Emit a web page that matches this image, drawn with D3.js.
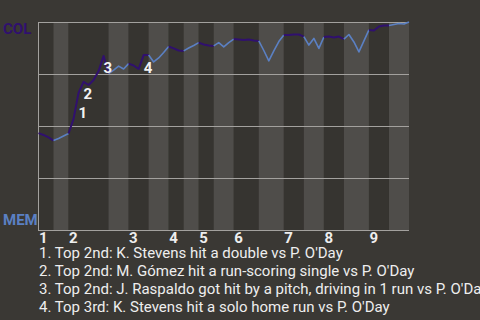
<!DOCTYPE html>
<html>
<head>
<meta charset="utf-8">
<script src="https://cdn.jsdelivr.net/npm/d3@7.9.0/dist/d3.min.js"></script>
<style>
  html, body { margin: 0; padding: 0; background: #3a3834; overflow: hidden; }
  svg { display: block; font-family: Roboto, sans-serif; }
</style>
</head>
<body>
<svg id="chart" width="480" height="320"></svg>
<script>
// teams: away on top, home on bottom
const teams = ['COL', 'MEM'];
const innings = ['1', '2', '3', '4', '5', '6', '7', '8', '9'];

// plate appearances in each half inning (top 1, bottom 1, top 2, ...)
const halfPlays = [3, 3, 8, 4, 4, 4, 3, 3, 3, 4, 5, 5, 4, 4, 4, 5, 4, 4];

// COL win probability (%) before the first play and after every play
const colWinPct = [
  46.6, 45.7, 44.5, 43.0, 44.0, 45.2, 46.4, 53.4, 65.9, 71.2,
  69.7, 72.1, 76.4, 83.7, 75.2, 76.9, 78.8, 77.4, 80.0, 79.1,
  77.4, 84.1, 84.1, 80.8, 82.7, 85.3, 88.2, 87.3, 86.3, 86.1,
  87.5, 88.7, 90.1, 89.2, 88.7, 88.5, 90.1, 88.0, 90.1, 91.8,
  91.6, 91.3, 91.6, 91.1, 90.9, 86.3, 81.3, 86.1, 90.6, 93.8,
  93.8, 94.0, 94.0, 93.0, 88.9, 92.1, 87.3, 92.8, 93.0, 92.5,
  93.0, 91.8, 94.0, 90.4, 85.6, 90.9, 96.2, 95.9, 97.8, 98.3,
  98.3, 98.8, 99.3, 99.0, 100
];

// key plays: index into colWinPct and description
const eventPlay = [8, 9, 13, 21];
const eventText = [
  "Top 2nd: K. Stevens hit a double vs P. O'Day",
  "Top 2nd: M. Gómez hit a run-scoring single vs P. O'Day",
  "Top 2nd: J. Raspaldo got hit by a pitch, driving in 1 run vs P. O'Day",
  "Top 3rd: K. Stevens hit a solo home run vs P. O'Day"
];

const colors = { top: '#30106e', bottom: '#5b80c3' };

const svg = d3.select('#chart');
const nPlays = d3.sum(halfPlays);
const halfStart = [0, ...d3.cumsum(halfPlays)];

const x = d3.scaleLinear().domain([0, nPlays]).range([38.5, 409]);
const y = d3.scaleLinear().domain([0, 100]).range([230, 22]);

// half inning bands
svg.append('g')
  .selectAll('rect')
  .data(halfPlays)
  .join('rect')
  .attr('x', (d, i) => x(halfStart[i]))
  .attr('width', (d, i) => x(halfStart[i + 1]) - x(halfStart[i]))
  .attr('y', y(100))
  .attr('height', y(0) - y(100))
  .attr('fill', (d, i) => i % 2 === 0 ? '#363430' : '#4f4d4a');

// grid lines
svg.append('g')
  .selectAll('line')
  .data([0, 25, 50, 75, 100])
  .join('line')
  .attr('x1', 38)
  .attr('x2', x(nPlays))
  .attr('y1', d => Math.round(y(d)) + 0.5)
  .attr('y2', d => Math.round(y(d)) + 0.5)
  .attr('stroke', '#a3a19e')
  .attr('stroke-width', 1);

svg.append('line')
  .attr('x1', 38.5).attr('x2', 38.5)
  .attr('y1', y(100)).attr('y2', y(0) + 1)
  .attr('stroke', '#a3a19e');

// win probability line, one path per half inning
const line = d3.line()
  .x(i => x(i))
  .y(i => y(colWinPct[i]));

svg.append('g')
  .attr('fill', 'none')
  .attr('stroke-linejoin', 'round')
  .selectAll('path')
  .data(halfPlays)
  .join('path')
  .attr('d', (d, h) => line(d3.range(halfStart[h], halfStart[h + 1] + 1)))
  .attr('stroke', (d, h) => h % 2 === 0 ? colors.top : colors.bottom)
  .attr('stroke-width', (d, h) => h % 2 === 0 ? 2 : 1.6);

// team labels
svg.append('text')
  .attr('x', 3).attr('y', 33.5)
  .attr('font-size', 15).attr('font-weight', 'bold')
  .attr('fill', colors.top)
  .text(teams[0]);

svg.append('text')
  .attr('x', 3).attr('y', 225)
  .attr('font-size', 15).attr('font-weight', 'bold')
  .attr('fill', colors.bottom)
  .text(teams[1]);

// inning numbers at the start of each top half
svg.append('g')
  .selectAll('text')
  .data(innings)
  .join('text')
  .attr('x', (d, i) => x(halfStart[i * 2]) + 0.5)
  .attr('y', 242.5)
  .attr('font-size', 15).attr('font-weight', 'bold')
  .attr('fill', '#eeeeee')
  .text(d => d);

// event markers, pushed down when they collide
let placed = [];
eventPlay
  .map((p, i) => ({ n: i + 1, px: x(p), py: y(colWinPct[p]) + 17.5 }))
  .sort((a, b) => a.py - b.py)
  .forEach(e => {
    placed.forEach(o => {
      if (Math.abs(o.px - e.px) < 9 && Math.abs(o.py - e.py) < 18) e.py = o.py + 19;
    });
    placed.push(e);
  });

svg.append('g')
  .selectAll('text')
  .data(placed)
  .join('text')
  .attr('x', d => d.px)
  .attr('y', d => d.py)
  .attr('font-size', 15).attr('font-weight', 'bold')
  .attr('fill', '#f2f2f2')
  .text(d => d.n);

// footnotes
svg.append('g')
  .selectAll('text')
  .data(eventText)
  .join('text')
  .attr('x', 39)
  .attr('y', (d, i) => 257.7 + i * 18)
  .attr('font-size', 15)
  .attr('fill', '#eeeeee')
  .text((d, i) => `${i + 1}. ${d}`);
</script>
</body>
</html>
